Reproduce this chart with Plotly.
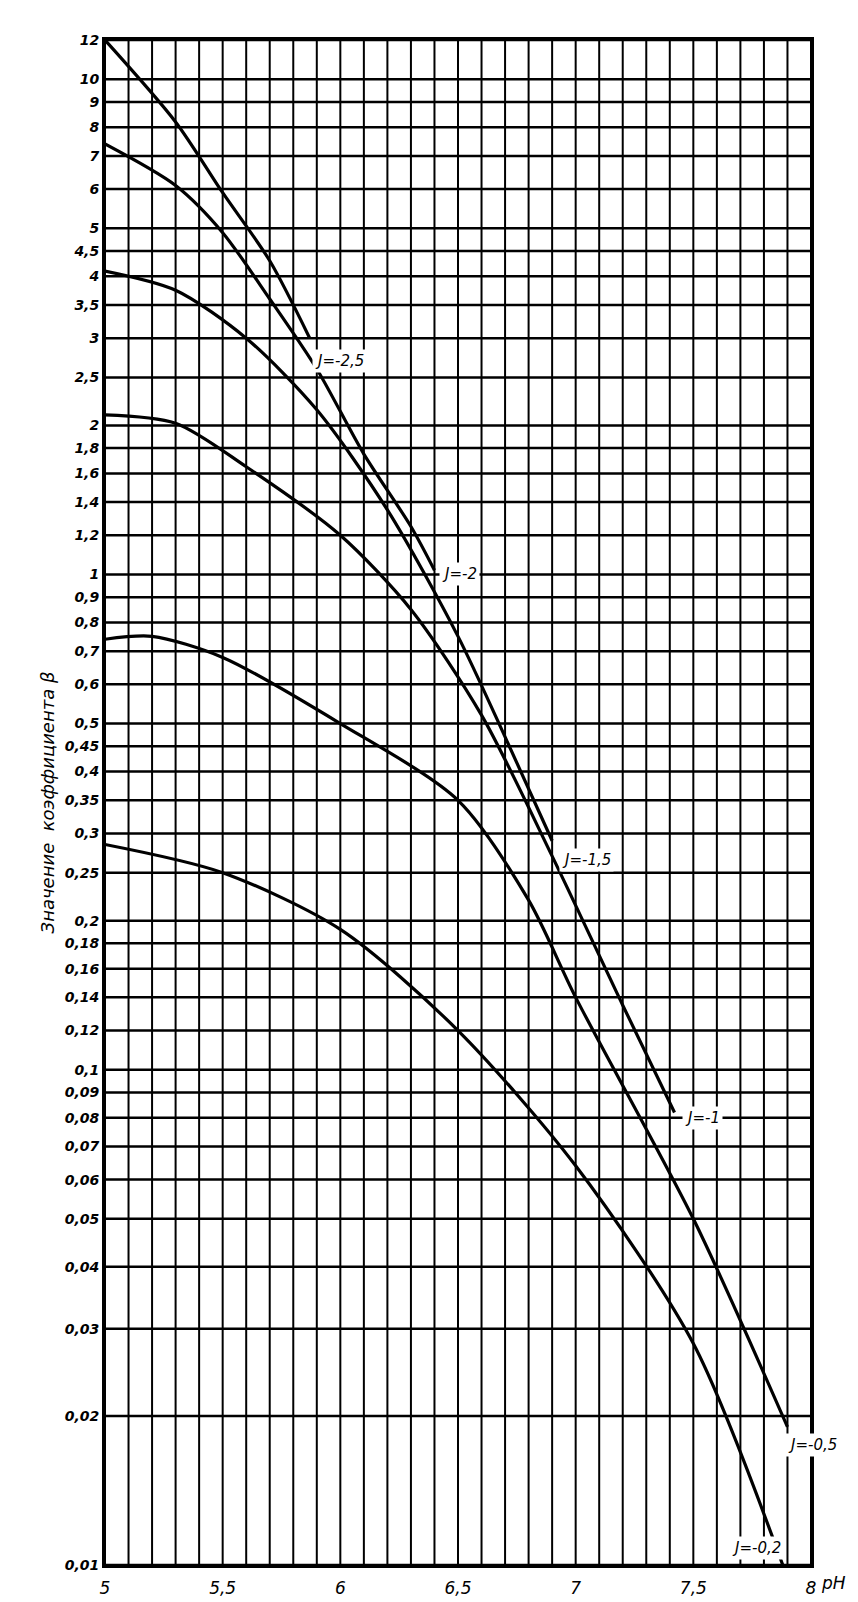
import math
import plotly.graph_objects as go

ph_m25 = [5.0, 5.3, 5.5, 5.7, 5.87]
b_m25 = [12.0, 8.2, 5.9, 4.3, 3.0]
ph_m2 = [5.0, 5.3, 5.5, 5.7, 5.9, 6.1, 6.3, 6.4]
b_m2 = [7.4, 6.1, 4.9, 3.6, 2.6, 1.75, 1.25, 1.02]
ph_m15 = [5.0, 5.3, 5.6, 5.9, 6.2, 6.5, 6.7, 6.9]
b_m15 = [4.1, 3.75, 3.0, 2.15, 1.35, 0.75, 0.47, 0.29]
ph_m1 = [5.0, 5.3, 5.6, 6.0, 6.3, 6.6, 6.9, 7.2, 7.42]
b_m1 = [2.1, 2.02, 1.65, 1.2, 0.85, 0.52, 0.27, 0.135, 0.082]
ph_m05 = [5.0, 5.2, 5.5, 6.0, 6.5, 6.8, 7.0, 7.5, 7.9]
b_m05 = [0.74, 0.75, 0.68, 0.5, 0.35, 0.22, 0.14, 0.05, 0.019]
ph_m02 = [5.0, 5.5, 6.0, 6.5, 7.0, 7.5, 7.88]
b_m02 = [0.285, 0.25, 0.192, 0.12, 0.064, 0.028, 0.01]

series = [("J=-2,5", ph_m25, b_m25), ("J=-2", ph_m2, b_m2), ("J=-1,5", ph_m15, b_m15),
          ("J=-1", ph_m1, b_m1), ("J=-0,5", ph_m05, b_m05), ("J=-0,2", ph_m02, b_m02)]
label_pos = [(5.88, 2.7), (6.42, 1.0), (6.93, 0.265), (7.45, 0.08), (7.89, 0.0175), (7.65, 0.0108)]

ytick_vals = [12, 10, 9, 8, 7, 6, 5, 4.5, 4, 3.5, 3, 2.5, 2, 1.8, 1.6, 1.4, 1.2, 1, 0.9, 0.8, 0.7, 0.6,
              0.5, 0.45, 0.4, 0.35, 0.3, 0.25, 0.2, 0.18, 0.16, 0.14, 0.12, 0.1, 0.09, 0.08, 0.07, 0.06,
              0.05, 0.04, 0.03, 0.02, 0.01]
ytick_text = [str(v).replace(".", ",") for v in ytick_vals]
xtick_vals = [5, 5.5, 6, 6.5, 7, 7.5, 8]
xtick_text = ["5", "5,5", "6", "6,5", "7", "7,5", "8"]
x_grid = [5 + 0.1 * i for i in range(31)]

fig = go.Figure()
for name, x, y in series:
    fig.add_trace(go.Scatter(x=x, y=y, mode="lines",
                             line=dict(color="black", width=3.2, shape="spline", smoothing=0.8),
                             showlegend=False))
for (name, _, _), (lx, ly) in zip(series, label_pos):
    fig.add_annotation(x=lx, y=math.log10(ly), yref="y", xref="x", text="<i>" + name + "</i>",
                       showarrow=False, xanchor="left", bgcolor="white", borderpad=2,
                       font=dict(family="DejaVu Sans", size=15, color="black"))

shapes = []
for xv in x_grid:
    shapes.append(dict(type="line", xref="x", yref="paper", x0=xv, x1=xv, y0=0, y1=1,
                       line=dict(color="black", width=2), layer="below"))
for yv in ytick_vals:
    shapes.append(dict(type="line", xref="paper", yref="y", x0=0, x1=1, y0=yv, y1=yv,
                       line=dict(color="black", width=2.5), layer="below"))
fig.update_layout(shapes=shapes)

fig.add_annotation(x=1.012, y=0, xref="paper", yref="paper", yshift=-6, text="<i>pH</i>", showarrow=False,
                   xanchor="left", yanchor="top", font=dict(family="DejaVu Sans", size=17, color="black"))

fig.update_xaxes(range=[5, 8], tickvals=xtick_vals, ticktext=["<i>%s</i>" % t for t in xtick_text],
                 showgrid=False, zeroline=False,
                 showline=True, linecolor="black", linewidth=3, mirror=True, ticks="outside",
                 ticklen=6, tickcolor="white",
                 tickfont=dict(family="DejaVu Sans", size=17, color="black"))
fig.update_yaxes(type="log", range=[-2, 1.0792], tickvals=ytick_vals,
                 ticktext=["<i><b>%s</b></i>" % t for t in ytick_text], showgrid=False,
                 showline=True, linecolor="black", linewidth=3, mirror=True, ticks="",
                 tickfont=dict(family="DejaVu Sans", size=14, color="black"),
                 title=dict(text="<i>Значение  коэффициента β</i>", standoff=6,
                            font=dict(family="DejaVu Sans", size=18, color="black")))
fig.update_layout(width=858, height=1602, plot_bgcolor="white", paper_bgcolor="white",
                  margin=dict(l=97, r=55, t=32, b=37))
fig.write_html("out.html")
